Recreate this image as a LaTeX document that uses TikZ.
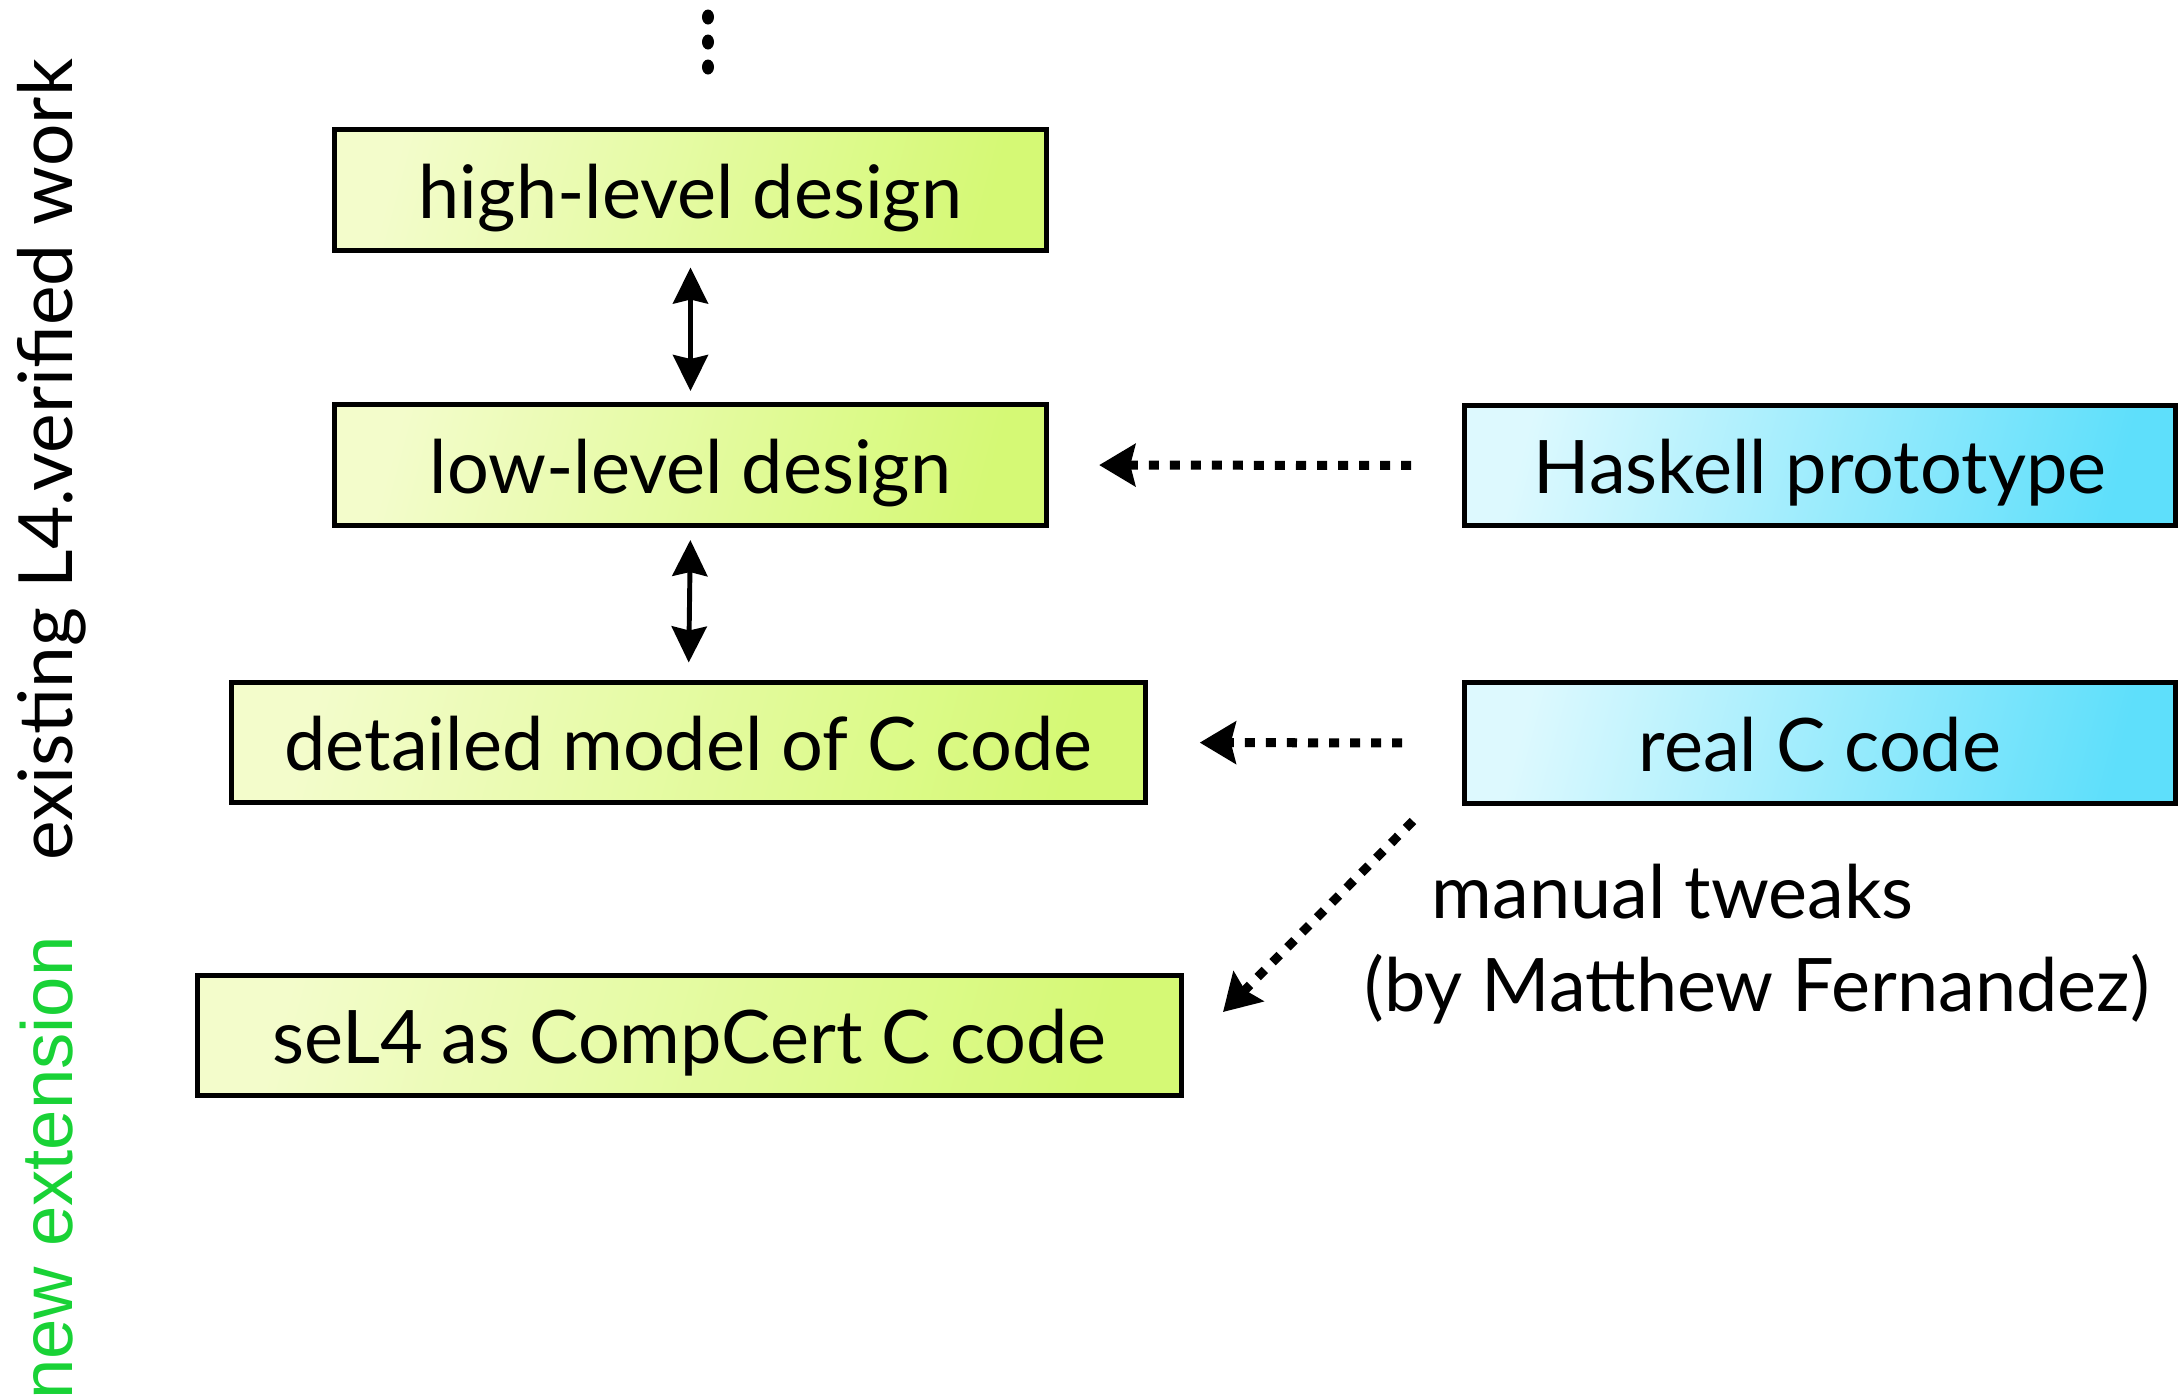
\documentclass[tikz,border=0pt]{standalone}
\usepackage{fontspec}
\setmainfont{Lato}
\newfontfamily\helv{Liberation Sans}
\usetikzlibrary{arrows.meta}
\definecolor{gL}{HTML}{F3FCCB}
\definecolor{gR}{HTML}{D5F975}
\definecolor{bL}{HTML}{DDF9FE}
\definecolor{bR}{HTML}{5EDFFB}
\definecolor{newgreen}{HTML}{19D236}
\newcommand{\boxfont}{\fontsize{21pt}{25pt}\selectfont}
\begin{document}
\begin{tikzpicture}[x=0.01cm,y=-0.01cm,
  box/.style={draw=black, line width=1.4pt, rectangle, inner sep=0pt, font=\boxfont, text=black, text height=0.56cm, text depth=0cm},
  greenbox/.style={box, left color=gL, right color=gR, shading angle=75},
  bluebox/.style={box, left color=bL, right color=bR, shading angle=75},
  dbl/.style={{Stealth[length=0.36cm,width=0.35cm,inset=0.04cm]}-{Stealth[length=0.36cm,width=0.35cm,inset=0.04cm]}, line width=1.4pt},
  dotarrow/.style={-{Stealth[length=0.36cm,width=0.42cm,inset=0.05cm]}, line width=0.09cm, dash pattern=on 0.1cm off 0.11cm},
  label/.style={anchor=base west, inner sep=0pt, font=\boxfont},
  sidetext/.style={rotate=90, anchor=base, inner sep=0pt}
]
\useasboundingbox (0,0) rectangle (2178,1399);

% vertical ellipsis
\fill (708,17) ellipse [x radius=0.06cm, y radius=0.075cm];
\fill (708,42) ellipse [x radius=0.06cm, y radius=0.075cm];
\fill (708,67) ellipse [x radius=0.06cm, y radius=0.075cm];

% boxes
\node[greenbox, minimum width=7.12cm, minimum height=1.21cm] (high) at (690.5,190) {high-level design};
\node[greenbox, minimum width=7.12cm, minimum height=1.21cm] (low) at (690.5,465) {low-level design};
\node[greenbox, minimum width=9.13cm, minimum height=1.20cm] (detailed) at (688.5,742.5) {detailed model of C code};
\node[greenbox, minimum width=9.84cm, minimum height=1.20cm] (sel4) at (689.5,1035.5) {seL4 as CompCert C code};
\node[bluebox, minimum width=7.105cm, minimum height=1.20cm] (hask) at (1820,465.5) {Haskell prototype};
\node[bluebox, minimum width=7.105cm, minimum height=1.21cm] (realC) at (1820,743) {real C code};

% connectors
\draw[dbl, shorten <=0.145cm, shorten >=0.11cm] (high.south) -- (low.north);
\draw[dbl, shorten <=0.12cm, shorten >=0.175cm] (low.south) -- (detailed.north);
\draw[dotarrow, shorten <=0.51cm, shorten >=0.5cm] (hask.west) -- (low.east);
\draw[dotarrow, shorten <=0.6cm, shorten >=0.52cm] (realC.west) -- (detailed.east);
\coordinate (twA) at (1413,821);
\coordinate (twB) at (1223,1012);
\draw[dotarrow] (twA) -- (twB);

% labels
\node[label] (mt) at (1431,918) {manual tweaks};
\node[label] (mf) at (1364,1011) {(by Matthew Fernandez)};

% side texts
\node[sidetext, font=\fontsize{21.3pt}{25pt}\selectfont] (existing) at (72,460) {existing L4.verified work};
\node[sidetext, font=\helv\fontsize{20.6pt}{24pt}\selectfont, text=newgreen] (newext) at (72,1168) {new extension};
\end{tikzpicture}
\end{document}
